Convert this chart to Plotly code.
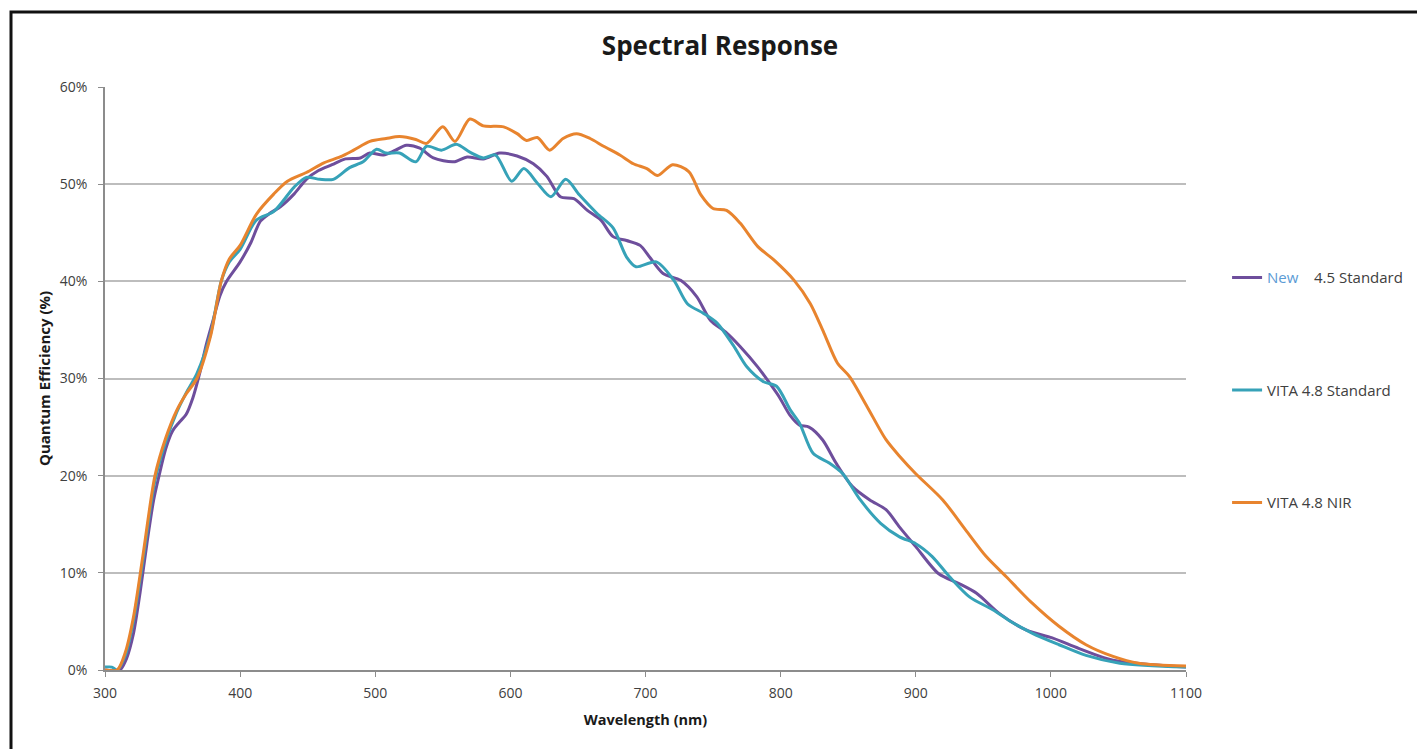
import plotly.graph_objects as go

# ---- data (Quantum efficiency in %) ----
wl_new = [300, 311, 316, 321, 326, 331, 336, 340, 345, 350, 355, 360, 365, 370, 375, 380, 385, 390,
          400, 408, 415, 422, 430, 440, 449, 458, 468, 478, 489, 496, 506, 515, 523, 533, 543, 558,
          568, 580, 592, 605, 617, 627, 637, 647, 657, 667, 676, 686, 696, 703, 713, 726, 738, 748,
          760, 770, 783, 792, 799, 807, 814, 821, 831, 841, 853, 866, 878, 888, 900, 917, 932, 945,
          962, 982, 1001, 1021, 1046, 1100]
qe_new = [0, 0, 1.2, 3.7, 8, 13, 17.5, 20, 22.8, 24.6, 25.5, 26.3, 28, 30.5, 33.5, 36, 38.5, 40,
          42, 44, 46.2, 47, 47.7, 49, 50.5, 51.4, 52, 52.6, 52.7, 53.2, 53, 53.5, 54, 53.7, 52.7, 52.3,
          52.8, 52.6, 53.2, 52.9, 52.1, 50.8, 48.7, 48.5, 47.3, 46.3, 44.6, 44.2, 43.7, 42.5, 40.8, 40.1,
          38.4, 36, 34.7, 33.3, 31.2, 29.5, 28.1, 26.2, 25.2, 25, 23.7, 21.3, 18.9, 17.5, 16.5, 14.7,
          12.7, 9.9, 8.9, 7.9, 5.8, 4.1, 3.3, 2.2, 1, 0.3]

wl_std = [300, 305, 309, 315, 321, 328, 337, 345, 353, 360, 368, 378, 386, 392, 400, 412, 425, 440,
          449, 459, 469, 481, 491, 501, 508, 518, 530, 538, 549, 560, 570, 580, 589, 601, 610, 620,
          630, 641, 651, 664, 676, 686, 693, 708, 721, 731, 743, 753, 765, 775, 787, 797, 807, 814,
          824, 836, 846, 859, 874, 888, 900, 912, 925, 940, 957, 969, 986, 1006, 1026, 1051, 1100]
qe_std = [0.3, 0.3, 0, 1.5, 5, 11.2, 19.5, 23.5, 26.5, 28.5, 30.5, 34.5, 40, 42, 43.3, 46.3, 47.2, 49.7,
          50.7, 50.5, 50.5, 51.7, 52.3, 53.6, 53.2, 53.2, 52.3, 53.9, 53.5, 54.1, 53.3, 52.7, 53, 50.3,
          51.6, 50.1, 48.7, 50.5, 48.9, 47, 45.5, 42.5, 41.5, 42, 40.1, 37.7, 36.7, 35.7, 33.4, 31.2,
          29.7, 29.2, 26.8, 25.4, 22.3, 21.3, 20.2, 17.5, 15.1, 13.7, 13, 11.7, 9.6, 7.5, 6.2, 5.1, 3.8,
          2.6, 1.5, 0.7, 0.3]

wl_nir = [300, 309, 315, 321, 328, 337, 345, 353, 360, 368, 378, 386, 392, 400, 412, 425, 435, 449,
          462, 474, 484, 496, 508, 518, 530, 538, 550, 559, 570, 580, 595, 605, 612, 620, 629, 639,
          649, 659, 669, 681, 691, 701, 709, 720, 732, 741, 750, 760, 770, 783, 795, 810, 822, 832,
          842, 851, 864, 878, 888, 900, 920, 937, 952, 967, 986, 1006, 1026, 1046, 1065, 1100]
qe_nir = [0, 0, 1.8, 5.4, 11.7, 20, 23.9, 26.7, 28.4, 30, 34.3, 40, 42.3, 43.7, 46.9, 49, 50.3, 51.2,
          52.2, 52.8, 53.5, 54.4, 54.7, 54.9, 54.6, 54.2, 55.9, 54.4, 56.7, 56, 55.9, 55.2, 54.5, 54.8,
          53.5, 54.7, 55.2, 54.7, 53.9, 53, 52.1, 51.6, 50.9, 52, 51.3, 48.9, 47.5, 47.3, 46, 43.6, 42.2,
          40.1, 37.7, 34.7, 31.6, 30.2, 27.1, 23.7, 22, 20.2, 17.5, 14.4, 11.7, 9.6, 6.9, 4.5, 2.6, 1.4,
          0.7, 0.4]

names = ['<span style="color:#5B9BD5">New</span>\u00a0\u00a0\u00a0 4.5 Standard',
         "VITA 4.8 Standard", "VITA 4.8 NIR"]
colors = ["#6E4E9C", "#36A2B8", "#E8842E"]
x_ticks = [300, 400, 500, 600, 700, 800, 900, 1000, 1100]
y_ticks = [0, 10, 20, 30, 40, 50, 60]

fig = go.Figure()
for i, (wx, qy) in enumerate([(wl_new, qe_new), (wl_std, qe_std), (wl_nir, qe_nir)]):
    fig.add_trace(go.Scatter(x=wx, y=qy, mode="lines", name=names[i],
                             legendgroup=f"g{i}",
                             line=dict(color=colors[i], width=3, shape="spline", smoothing=0.8)))

W, H = 1417, 741
font_fam = "Open Sans, Noto Sans, sans-serif"
fig.update_layout(
    width=W, height=H,
    margin=dict(l=97, r=239, t=79, b=79),
    paper_bgcolor="white", plot_bgcolor="white",
    font=dict(family=font_fam, color="#404040", size=12),
    title=dict(text="<b>Spectral Response</b>", x=712 / W, xanchor="center",
               y=1 - 38 / H, yanchor="middle", yref="container",
               font=dict(size=26, color="#1a1a1a", family=font_fam)),
    showlegend=True,
    legend=dict(x=1.038, xanchor="left", y=0.701, yanchor="top",
                tracegroupgap=90, font=dict(size=15, color="#404040"),
                bgcolor="rgba(0,0,0,0)"),
    xaxis=dict(range=[300, 1100], tickvals=x_ticks, ticktext=[str(v) for v in x_ticks],
               showgrid=False, zeroline=False, showline=True, linecolor="#8c8c8c", linewidth=1.5,
               ticks="outside", ticklen=5, tickcolor="#8c8c8c", tickfont=dict(size=14),
               ticklabelstandoff=4,
               title=dict(text="<b>Wavelength (nm)</b>", font=dict(size=14.5, color="#1a1a1a"),
                          standoff=14)),
    yaxis=dict(range=[0, 60], tickvals=y_ticks, ticktext=[f"{v}%" for v in y_ticks],
               showgrid=True, gridcolor="#BDBDBD", gridwidth=1.5, zeroline=False,
               showline=True, linecolor="#8c8c8c", linewidth=1.5,
               ticks="outside", ticklen=5, tickcolor="#8c8c8c", tickfont=dict(size=14),
               ticklabelstandoff=8,
               title=dict(text="<b>Quantum Efficiency (%)</b>", font=dict(size=15, color="#1a1a1a"),
                          standoff=6)),
)

# outer chart border
fig.add_shape(type="rect", xref="paper", yref="paper",
              x0=(11 - 105) / 1081, x1=(1440 - 105) / 1081,
              y0=(670 - 760) / 583, y1=(670 - 12) / 583,
              line=dict(color="#111111", width=3), fillcolor="rgba(0,0,0,0)", layer="below")

fig.write_html("out.html")
